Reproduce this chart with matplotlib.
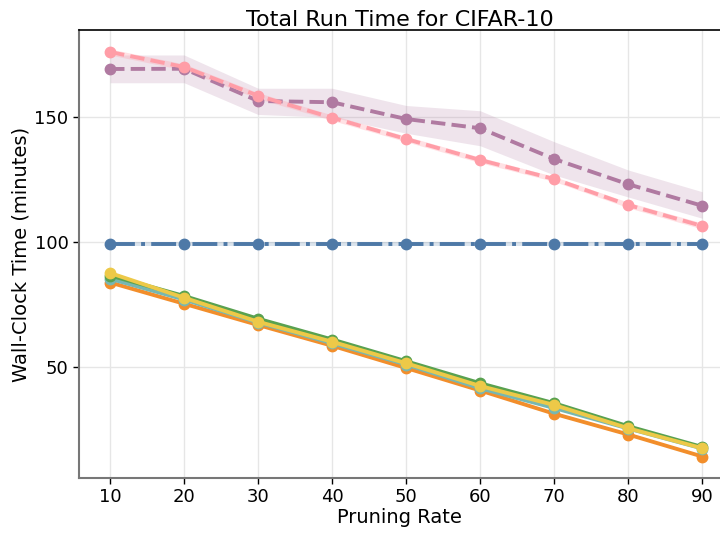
import numpy as np
import matplotlib
matplotlib.use("Agg")
import matplotlib.pyplot as plt

# ── data ─────────────────────────────────────────────────────────────────────
rates = [10, 20, 30, 40, 50, 60, 70, 80, 90]

pink      = [176.0, 170.0, 158.5, 149.7, 141.2, 132.8, 125.2, 114.8, 106.4]
pink_lo   = [174.8, 168.8, 157.3, 148.6, 140.1, 131.7, 124.2, 113.7, 105.2]
pink_hi   = [177.2, 171.2, 159.7, 150.8, 142.3, 133.9, 126.2, 115.9, 107.6]

purple    = [169.2, 169.3, 156.4, 155.9, 149.2, 145.5, 133.2, 123.1, 114.5]
purple_lo = [163.7, 163.7, 151.0, 149.9, 143.5, 138.5, 126.8, 118.0, 109.5]
purple_hi = [174.8, 174.8, 161.5, 161.5, 154.6, 152.5, 140.1, 128.8, 120.1]

blue      = [99.2, 99.2, 99.2, 99.2, 99.2, 99.2, 99.2, 99.2, 99.2]
blue_lo   = [98.4, 98.4, 98.4, 98.4, 98.4, 98.4, 98.4, 98.4, 98.4]
blue_hi   = [100.0, 100.0, 100.0, 100.0, 100.0, 100.0, 100.0, 100.0, 100.0]

orange = [83.8, 75.3, 66.8, 58.5, 49.6, 40.6, 31.3, 23.0, 14.2]
teal   = [85.3, 77.0, 67.8, 59.5, 51.0, 41.5, 33.6, 25.4, 17.4]
green  = [86.6, 78.4, 69.3, 61.0, 52.3, 43.5, 35.5, 26.3, 18.0]
yellow = [87.6, 77.7, 68.1, 60.1, 51.5, 42.4, 34.8, 25.5, 17.5]

C_PINK, C_PURPLE, C_BLUE = '#ff9da7', '#b07aa1', '#4e79a7'
C_ORANGE, C_TEAL, C_GREEN, C_YELLOW = '#f28e2b', '#76b7b2', '#59a14f', '#edc948'

# ── figure ───────────────────────────────────────────────────────────────────
fig = plt.figure(figsize=(7.2, 5.33), dpi=100)
ax = fig.add_axes([79 / 720, 1 - 478 / 533, 1 - 79 / 720, (478 - 30) / 533])

ax.fill_between(rates, purple_lo, purple_hi, color=C_PURPLE, alpha=0.2, lw=0)
ax.fill_between(rates, pink_lo, pink_hi, color=C_PINK, alpha=0.3, lw=0)
ax.fill_between(rates, blue_lo, blue_hi, color=C_BLUE, alpha=0.2, lw=0)

kw = dict(marker='o', markersize=7.5, lw=2.8)
ax.plot(rates, purple, ls='--', color=C_PURPLE, **kw)
ax.plot(rates, pink, ls='--', color=C_PINK, **kw)
ax.plot(rates, blue, ls='-.', color=C_BLUE, **kw)
ax.plot(rates, orange, ls='-', color=C_ORANGE, **kw)
ax.plot(rates, teal, ls='-', color=C_TEAL, **kw)
ax.plot(rates, green, ls='-', color=C_GREEN, **kw)
ax.plot(rates, yellow, ls='-', color=C_YELLOW, **kw)

ax.set_xlim(5.8, 92.4)
ax.set_ylim(5.6, 184.8)
ax.set_xticks(rates)
ax.set_yticks([50, 100, 150])
ax.grid(True, color='#e6e6e6', lw=1)
ax.set_axisbelow(True)

ax.spines['right'].set_visible(False)
ax.spines['top'].set_color('black')
ax.spines['top'].set_linewidth(1.2)
for s in ('left', 'bottom'):
    ax.spines[s].set_color('#777777')
    ax.spines[s].set_linewidth(1.5)
ax.tick_params(direction='out', length=4, width=1, labelsize=13, color='black')

ax.set_xlabel('Pruning Rate', fontsize=14, labelpad=1)
ax.set_ylabel('Wall-Clock Time (minutes)', fontsize=14, labelpad=3)
ax.set_title('Total Run Time for CIFAR-10', fontsize=16, pad=3)

fig.savefig('out.png', dpi=100)
